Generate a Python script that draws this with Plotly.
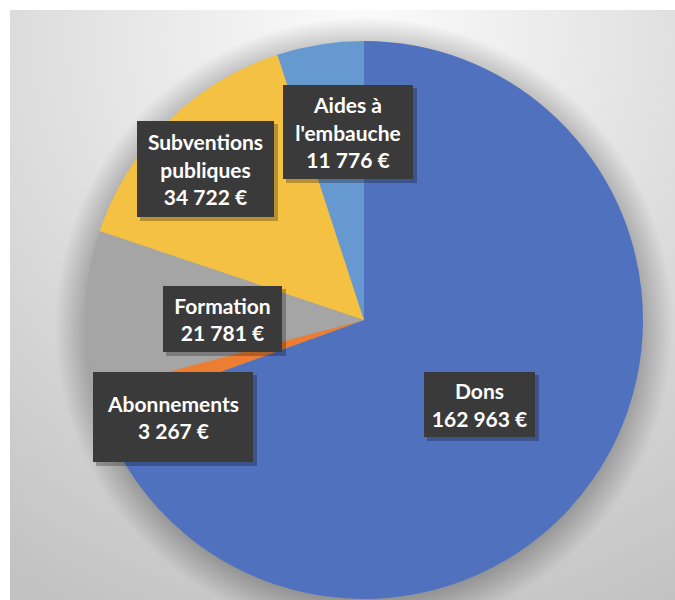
import plotly.graph_objects as go
import urllib.parse

# ---- data ----
categories = ["Dons", "Abonnements", "Formation", "Subventions publiques", "Aides à l'embauche"]
box_labels = ["Dons", "Abonnements", "Formation", "Subventions<br>publiques", "Aides à<br>l'embauche"]
values = [162963, 3267, 21781, 34722, 11776]
colors = ["#4F71BE", "#ED7D31", "#A5A5A5", "#F4C142", "#6699CF"]

W, H = 675, 600

# label box placement (pixel centre x, centre y, width, height) -- style only
boxes = [
    (479.5, 404.5, 111, 65),
    (173, 417, 160, 90),
    (222.5, 319, 119, 66),
    (205.5, 169, 137, 96),
    (348, 132, 130, 94),
]

def fmt(v):
    return f"{v:,}".replace(",", " ") + " €"

# background: gradient panel + pie shadow as an SVG image
cx, cy, r = 364, 320, 279
svg = f'''<svg xmlns="http://www.w3.org/2000/svg" width="{W}" height="{H}" viewBox="0 0 {W} {H}">
<defs>
<radialGradient id="bg" gradientUnits="userSpaceOnUse" cx="364" cy="40" r="640">
<stop offset="0" stop-color="#fcfcfc"/>
<stop offset="0.45" stop-color="#e2e2e2"/>
<stop offset="1" stop-color="#c2c2c2"/>
</radialGradient>
<radialGradient id="sh" gradientUnits="userSpaceOnUse" cx="{cx}" cy="{cy+6}" r="{r+30}">
<stop offset="0" stop-color="#000" stop-opacity="0.30"/>
<stop offset="{(r-4)/(r+30):.3f}" stop-color="#000" stop-opacity="0.26"/>
<stop offset="1" stop-color="#000" stop-opacity="0"/>
</radialGradient>
</defs>
<rect x="0" y="0" width="{W}" height="{H}" fill="#ffffff"/>
<rect x="10" y="10" width="{W-10}" height="{H-10}" fill="url(#bg)"/>
<rect x="10" y="10" width="{W-10}" height="{H-10}" fill="url(#sh)"/>
</svg>'''
svg_uri = "data:image/svg+xml;charset=utf-8," + urllib.parse.quote(svg)

fig = go.Figure()
fig.add_trace(go.Pie(
    labels=categories,
    values=values,
    marker=dict(colors=colors, line=dict(width=0)),
    sort=False,
    direction="clockwise",
    rotation=0,
    textinfo="none",
    hoverinfo="label+value",
    showlegend=False,
    domain=dict(x=[(cx - r) / W, (cx + r) / W], y=[1 - (cy + r) / H, 1 - (cy - r) / H]),
))

annotations = []
shapes = []
for lab, v, (bx, by, bw, bh) in zip(box_labels, values, boxes):
    # shadow
    shapes.append(dict(type="rect", xref="paper", yref="paper",
                       x0=(bx - bw / 2 + 3) / W, x1=(bx + bw / 2 + 4) / W,
                       y0=1 - (by + bh / 2 + 4) / H, y1=1 - (by - bh / 2 + 3) / H,
                       fillcolor="rgba(0,0,0,0.25)", line=dict(width=0), layer="above"))
    annotations.append(dict(
        x=bx / W, y=1 - by / H, xref="paper", yref="paper",
        xanchor="center", yanchor="middle",
        text=f"{lab}<br>{fmt(v)}", showarrow=False,
        width=bw, height=bh, borderpad=0, borderwidth=0,
        bgcolor="#3a3a3a", align="center", valign="middle",
        font=dict(family="Lato", size=21, color="#ffffff", weight="bold"),
    ))

fig.update_layout(
    width=W, height=H,
    margin=dict(l=0, r=0, t=0, b=0),
    paper_bgcolor="#ffffff",
    plot_bgcolor="#ffffff",
    annotations=annotations,
    shapes=shapes,
    images=[dict(source=svg_uri, xref="paper", yref="paper", x=0, y=1,
                 sizex=1, sizey=1, sizing="stretch", xanchor="left", yanchor="top",
                 layer="below")],
)

fig.write_html("out.html", config={"displayModeBar": False},
               post_script="document.body.style.margin='0';document.body.style.overflow='hidden';")
